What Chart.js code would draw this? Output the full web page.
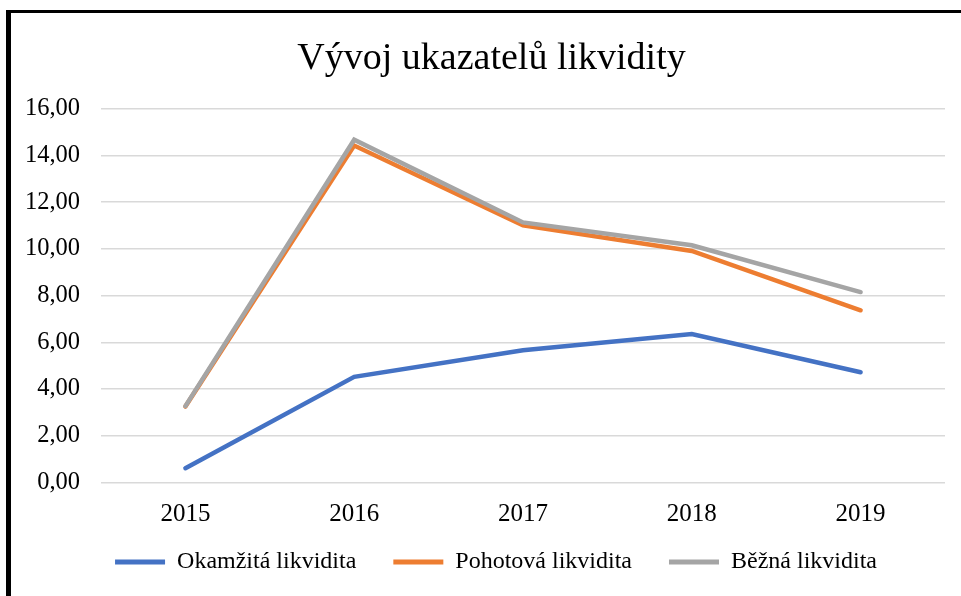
<!DOCTYPE html>
<html>
<head>
<meta charset="utf-8">
<script src="https://cdn.jsdelivr.net/npm/chart.js@4.4.0/dist/chart.umd.min.js"></script>
<style>
    body { margin: 0; background: #fff; }
    #frame {
        position: absolute;
        left: 6px;
        top: 10px;
        width: 1000px;
        height: 700px;
        border-left: 5px solid #000;
        border-top: 3px solid #000;
    }
    #chart-container { position: absolute; left: 0; top: 0; width: 961px; height: 596px; }
</style>
</head>
<body>
<div id="frame"></div>
<div id="chart-container"><canvas id="myChart"></canvas></div>
<script>
// values
var years = ['2015', '2016', '2017', '2018', '2019']
var okamzita = [0.61, 4.52, 5.66, 6.35, 4.72]
var pohotova = [3.25, 14.42, 11.00, 9.91, 7.37]
var bezna = [3.27, 14.67, 11.13, 10.15, 8.15]
var yTicks = [0, 2, 4, 6, 8, 10, 12, 14, 16]

var seriesNames = ['Okamžitá likvidita', 'Pohotová likvidita', 'Běžná likvidita']
var seriesColors = ['#4472C4', '#ED7D31', '#A5A5A5']

var fontFamily = "'Liberation Serif', 'Times New Roman', serif"

function makeDataset(i, values)
{
    return {
        label: seriesNames[i],
        data: values,
        borderColor: seriesColors[i],
        backgroundColor: seriesColors[i],
        borderWidth: 4.5,
        borderCapStyle: 'round',
        borderJoinStyle: 'miter',
        pointRadius: 0,
        tension: 0,
        // grey line sits on top of the orange one
        order: 3 - i
    }
}

// the title and legend in the original are centred on the whole frame,
// not on the canvas minus the axis, so nudge them after layout
var shiftBlocks = {
    id: 'shiftBlocks',
    afterInit: function (chart) {
        var legend = chart.legend
        var origFit = legend.fit
        legend.fit = function () {
            origFit.call(this)
            this.height = 40
        }
    },
    afterLayout: function (chart) {
        chart.titleBlock.left = 38
        chart.legend.left = 47
        chart.legend.top = 513
        chart.legend.bottom = 584
    }
}

const ctx = document.getElementById('myChart')
const myChart = new Chart(ctx, {
    type: 'line',
    data: {
        labels: years,
        datasets: [
            makeDataset(0, okamzita),
            makeDataset(1, pohotova),
            makeDataset(2, bezna)
        ]
    },
    plugins: [shiftBlocks],
    options: {
        responsive: true,
        maintainAspectRatio: false,
        animation: false,
        layout: {
            padding: { top: 20, right: 16, bottom: 15.5, left: 0 }
        },
        scales: {
            x: {
                offset: true,
                grid: { display: false },
                border: { display: false },
                ticks: {
                    color: '#000',
                    padding: 9,
                    font: { family: fontFamily, size: 25 }
                },
                afterFit: function (scale) { scale.height = 58 }
            },
            y: {
                min: 0,
                max: 16,
                afterBuildTicks: function (scale) {
                    scale.ticks = yTicks.map(function (v) { return { value: v } })
                },
                grid: { color: '#D9D9D9', lineWidth: 1.5, drawTicks: false },
                border: { display: false },
                ticks: {
                    color: '#000',
                    padding: 21,
                    font: { family: fontFamily, size: 24.5 },
                    callback: function (value) { return value.toFixed(2).replace('.', ',') }
                },
                afterFit: function (scale) { scale.width = 101 }
            }
        },
        plugins: {
            title: {
                display: true,
                text: 'Vývoj ukazatelů likvidity',
                color: '#000',
                font: { family: fontFamily, size: 38, weight: 'normal' },
                padding: { top: 16, bottom: 27 }
            },
            legend: {
                position: 'bottom',
                labels: {
                    color: '#000',
                    font: { family: fontFamily, size: 24 },
                    boxWidth: 50,
                    boxHeight: 5,
                    padding: 37,
                    generateLabels: function (chart) {
                        return chart.data.datasets.map(function (ds, i) {
                            return {
                                text: ds.label,
                                fillStyle: ds.borderColor,
                                strokeStyle: ds.borderColor,
                                lineWidth: 0,
                                fontColor: '#000',
                                hidden: false,
                                datasetIndex: i
                            }
                        })
                    }
                }
            },
            tooltip: { enabled: false }
        }
    }
})
</script>
</body>
</html>
